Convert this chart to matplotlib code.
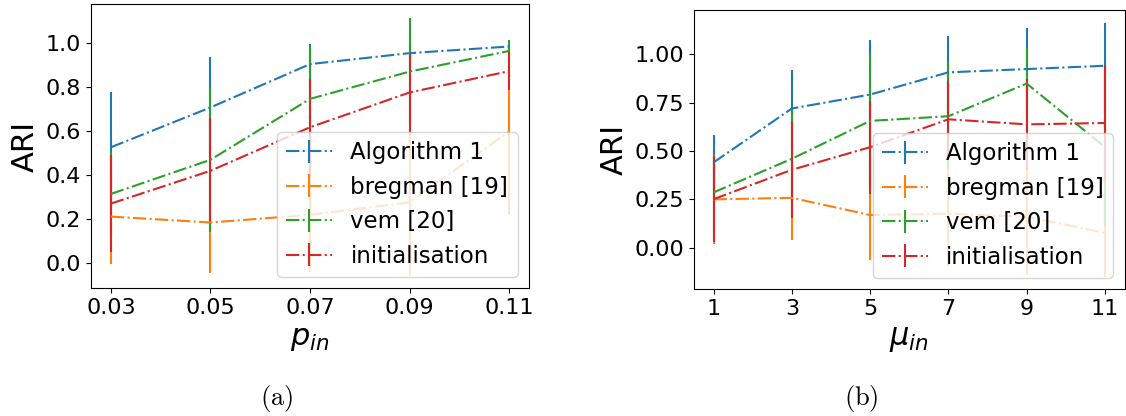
import matplotlib
matplotlib.use("Agg")
import matplotlib.pyplot as plt
import numpy as np

labels = ['Algorithm 1', 'bregman [19]', 'vem [20]', 'initialisation']

# panel (a): x = p_in
p_in = [0.03, 0.05, 0.07, 0.09, 0.11]
a_mean = [
    [0.527, 0.708, 0.905, 0.955, 0.985],
    [0.212, 0.185, 0.220, 0.277, 0.598],
    [0.315, 0.470, 0.747, 0.871, 0.965],
    [0.271, 0.420, 0.618, 0.776, 0.873],
]
a_err = [
    [0.25, 0.23, 0.09, 0.05, 0.02],
    [0.217, 0.23, 0.26, 0.335, 0.38],
    [0.19, 0.33, 0.24, 0.245, 0.05],
    [0.22, 0.24, 0.22, 0.18, 0.085],
]

# panel (b): x = mu_in
mu_in = [1, 3, 5, 7, 9, 11]
b_mean = [
    [0.441, 0.720, 0.792, 0.907, 0.924, 0.941],
    [0.250, 0.258, 0.169, 0.176, 0.160, 0.077],
    [0.286, 0.460, 0.656, 0.680, 0.849, 0.520],
    [0.251, 0.403, 0.520, 0.664, 0.638, 0.645],
]
b_err = [
    [0.14, 0.20, 0.28, 0.19, 0.21, 0.22],
    [0.23, 0.22, 0.23, 0.27, 0.30, 0.23],
    [0.20, 0.26, 0.345, 0.28, 0.185, 0.41],
    [0.224, 0.25, 0.24, 0.20, 0.236, 0.30],
]

fig = plt.figure(figsize=(11.26, 4.16), dpi=100)
ax1 = fig.add_axes([0.0808, 0.307, 0.389, 0.6827])
ax2 = fig.add_axes([0.6163, 0.3046, 0.3824, 0.6707])

for i in range(4):
    ax1.errorbar(p_in, a_mean[i], yerr=a_err[i], fmt='-.', label=labels[i])
    ax2.errorbar(mu_in, b_mean[i], yerr=b_err[i], fmt='-.', label=labels[i])

ax1.set_xticks(p_in)
ax1.set_xticklabels(['0.03', '0.05', '0.07', '0.09', '0.11'])
ax1.set_yticks([0.0, 0.2, 0.4, 0.6, 0.8, 1.0])
ax1.set_ylim(-0.114, 1.177)
ax1.set_xlabel(r'$p_{in}$', fontsize=22)

ax2.set_xticks(mu_in)
ax2.set_yticks([0.0, 0.25, 0.5, 0.75, 1.0])
ax2.set_ylim(-0.215, 1.228)
ax2.set_xlabel(r'$\mu_{in}$', fontsize=22)

for ax in (ax1, ax2):
    ax.set_ylabel('ARI', fontsize=22)
    ax.tick_params(labelsize=16)
    ax.legend(loc='lower right', fontsize=16.5)

fig.text(0.2457, 0.0425, r'$\mathrm{(a)}$', math_fontfamily='cm', fontsize=19, ha='center', va='center')
fig.text(0.7647, 0.0425, r'$\mathrm{(b)}$', math_fontfamily='cm', fontsize=19, ha='center', va='center')

fig.savefig('out.png', dpi=100)
